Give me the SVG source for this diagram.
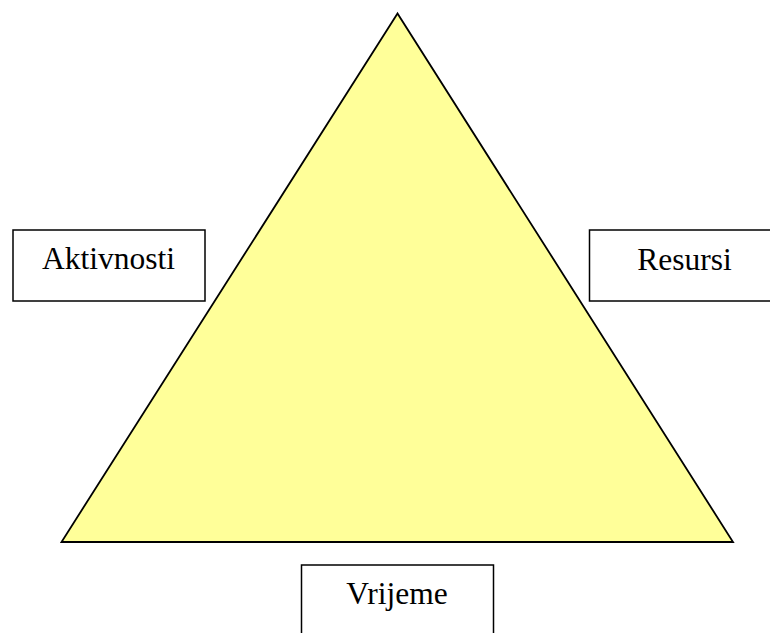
<svg xmlns="http://www.w3.org/2000/svg" width="770" height="633" viewBox="0 0 770 633">
<style>
.box{fill:#FFFFFF;stroke:#000000;stroke-width:1.5}
.lbl{font-family:"Liberation Serif","Times New Roman",serif;font-size:31.5px;fill:#000000;text-anchor:middle}
</style>
<rect width="770" height="633" fill="#FFFFFF"/>
<g id="triangle">
<polygon points="397.5,13.5 61.5,542 733,542" fill="#FFFF99" stroke="#000000" stroke-width="1.8" stroke-linejoin="miter"/>
</g>
<g id="aktivnosti">
<rect class="box" x="13" y="230" width="192" height="71"/>
<text class="lbl" x="108.5" y="269">Aktivnosti</text>
</g>
<g id="resursi">
<rect class="box" x="589.5" y="230" width="190" height="71"/>
<text class="lbl" x="684.5" y="270">Resursi</text>
</g>
<g id="vrijeme">
<rect class="box" x="301.5" y="565" width="192" height="80"/>
<text class="lbl" x="397" y="604">Vrijeme</text>
</g>
<g id="connectors"></g>
</svg>
